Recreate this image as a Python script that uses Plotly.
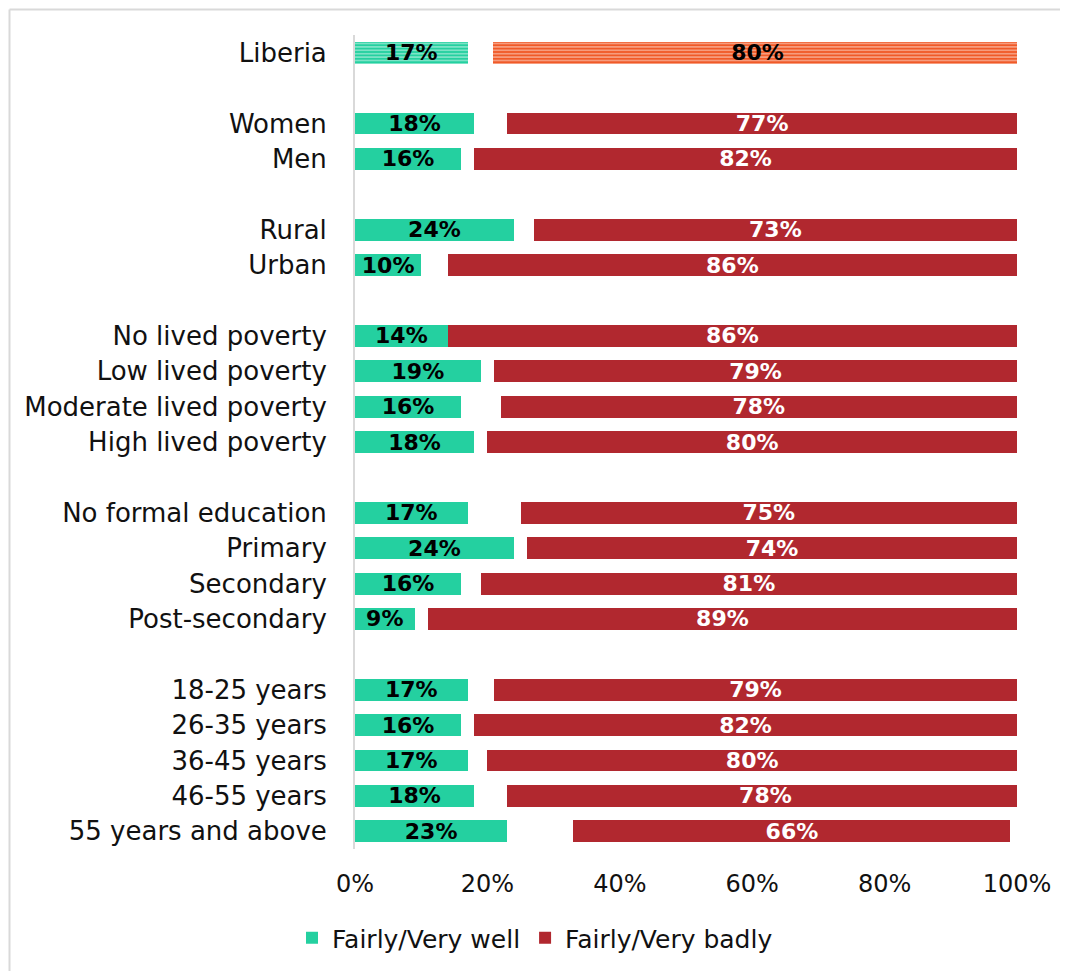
import plotly.graph_objects as go

categories = ["Liberia", "Women", "Men", "Rural", "Urban", "No lived poverty", "Low lived poverty",
              "Moderate lived poverty", "High lived poverty", "No formal education", "Primary",
              "Secondary", "Post-secondary", "18-25 years", "26-35 years", "36-45 years",
              "46-55 years", "55 years and above"]
row_pos = [0, 2, 3, 5, 6, 8, 9, 10, 11, 13, 14, 15, 16, 18, 19, 20, 21, 22]
well = [17, 18, 16, 24, 10, 14, 19, 16, 18, 17, 24, 16, 9, 17, 16, 17, 18, 23]
gap = [3.8, 5, 2, 3, 4, 0, 2, 6, 2, 8, 2, 3, 2, 4, 2, 3, 5, 10]
badly = [80, 77, 82, 73, 86, 86, 79, 78, 80, 75, 74, 81, 89, 79, 82, 80, 78, 66]
x_ticks = [0, 20, 40, 60, 80, 100]
x_tick_labels = ["0%", "20%", "40%", "60%", "80%", "100%"]

GREEN = "#24D0A0"
RED = "#B1282F"
ORANGE = "#F05A28"
FONT = "DejaVu Sans"

well_txt = [f"{v}%" for v in well]
bad_txt = [f"{v}%" for v in badly]

fig = go.Figure()
lbl = dict(family=FONT, size=22, weight="bold")
common = dict(orientation="h", width=0.62, textposition="inside", insidetextanchor="middle",
              textangle=0, constraintext="none", texttemplate="%{text}", hoverinfo="skip")

fig.add_trace(go.Bar(name="Fairly/Very well", y=row_pos[1:], x=well[1:], text=well_txt[1:],
                     marker=dict(color=GREEN, line=dict(width=0)),
                     textfont=dict(color="black", **lbl), **common))
fig.add_trace(go.Bar(name="lib_well", y=row_pos[:1], x=well[:1], text=well_txt[:1], showlegend=False,
                     marker=dict(color=GREEN, line=dict(width=0),
                                 pattern=dict(shape="-", fillmode="overlay", fgcolor="white",
                                              size=3.4, solidity=0.4)),
                     textfont=dict(color="black", **lbl), **common))
fig.add_trace(go.Bar(name="gap", y=row_pos, x=gap, showlegend=False, orientation="h", width=0.62,
                     marker=dict(color="rgba(0,0,0,0)", line=dict(width=0)), hoverinfo="skip"))
fig.add_trace(go.Bar(name="Fairly/Very badly", y=row_pos[1:], x=badly[1:], text=bad_txt[1:],
                     marker=dict(color=RED, line=dict(width=0)),
                     textfont=dict(color="white", **lbl), **common))
fig.add_trace(go.Bar(name="lib_bad", y=row_pos[:1], x=badly[:1], text=bad_txt[:1], showlegend=False,
                     marker=dict(color=ORANGE, line=dict(width=0),
                                 pattern=dict(shape="-", fillmode="overlay", fgcolor="white",
                                              size=3.4, solidity=0.4)),
                     textfont=dict(color="black", **lbl), **common))

# target page coordinates (page has an 8px offset from body margin)
PL, PR, PT, PB = 355, 1017, 35, 849
OFF = 8
W, H = PR - PL, PB - PT
fig.update_layout(
    barmode="stack",
    width=1068, height=971,
    margin=dict(l=PL - OFF, r=1068 - PR + OFF, t=PT - OFF, b=971 - PB + OFF),
    paper_bgcolor="white", plot_bgcolor="white",
    font=dict(family=FONT, size=26, color="#111111"),
    showlegend=True,
    legend=dict(orientation="h", x=(292 - PL) / W, xanchor="left",
                y=(PB - 938) / H, yanchor="middle",
                font=dict(family=FONT, size=25, color="#111111"), itemwidth=30,
                traceorder="normal"),
    xaxis=dict(range=[0, 100], tickvals=x_ticks, ticktext=x_tick_labels, showgrid=False,
               zeroline=False, showline=False, ticks="outside", ticklen=13,
               tickcolor="rgba(0,0,0,0)", fixedrange=True,
               tickfont=dict(family=FONT, size=24, color="#111111")),
    yaxis=dict(range=[22.5, -0.5], tickvals=row_pos, ticktext=categories, showgrid=False,
               zeroline=False, showline=True, linecolor="#D9D9D9", linewidth=2,
               ticks="outside", ticklen=21, tickcolor="rgba(0,0,0,0)", fixedrange=True),
    shapes=[
        dict(type="line", xref="paper", yref="paper",
             x0=(9.5 - PL) / W, x1=(9.5 - PL) / W, y0=(PB - 1000) / H, y1=(PB - 9.5) / H,
             line=dict(color="#D9D9D9", width=2), layer="below"),
        dict(type="line", xref="paper", yref="paper",
             x0=(9.5 - PL) / W, x1=(1100 - PL) / W, y0=(PB - 9.5) / H, y1=(PB - 9.5) / H,
             line=dict(color="#D9D9D9", width=2), layer="below"),
    ],
)

fig.write_html("out.html")
